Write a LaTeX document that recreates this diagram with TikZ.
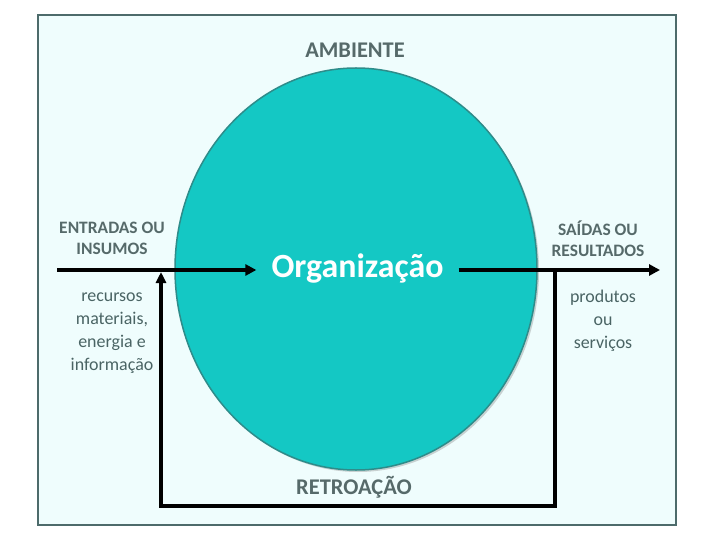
\documentclass[tikz,border=0pt]{standalone}
\usepackage{fontspec}
\setmainfont{Carlito}
\usetikzlibrary{arrows.meta,shapes.geometric,shadows}

\definecolor{moldura}{HTML}{4D6B6B}
\definecolor{fundo}{HTML}{EFFDFD}
\definecolor{turquesa}{HTML}{14C8C4}
\definecolor{borda}{HTML}{2E8C8A}
\definecolor{rotulo}{HTML}{566A6A}
\definecolor{nota}{HTML}{4A6464}

\tikzset{
  titulo/.style={font=\fontsize{17.5}{21}\selectfont\bfseries, text=rotulo, align=center},
  destaque/.style={titulo, font=\fontsize{22.5}{26}\selectfont\bfseries},
  texto/.style={font=\fontsize{18}{23}\selectfont, text=nota, align=center},
  seta/.style={line width=4bp, -{Triangle[length=11bp, width=11bp]}},
  retorno/.style={line width=3.2bp, -{Triangle[length=11bp, width=10bp]}}
}

\begin{document}
\begin{tikzpicture}[x=1bp, y=-1bp]
\useasboundingbox (0,0) rectangle (720,540);
% moldura do ambiente
\draw[moldura, line width=2.5bp, fill=fundo] (38,15) rectangle (676,525);

% organizacao
\node[ellipse, fill=turquesa, draw=borda, line width=1.5bp, minimum width=362bp, minimum height=402bp,
      drop shadow={shadow xshift=2bp, shadow yshift=-2bp, opacity=0.35}] (amb) at (356,269) {};
\node[font=\fontsize{34}{38}\selectfont\bfseries, text=white, inner xsep=15bp] (org) at (357.5,268) {Organização};

\node[destaque] (ambiente) at (355,50) {AMBIENTE};
\node[titulo] (entradas) at (112,238.5) {ENTRADAS OU\\INSUMOS};
\node[titulo] (saidas) at (598,238.5) {SAÍDAS OU\\RESULTADOS};
\node[destaque] (retroacao) at (354,487) {RETROAÇÃO};

\node[texto] (recursos) at (112,333) {recursos\\materiais,\\energia e\\informação};
\node[texto] (produtos) at (603,321) {produtos\\ou\\serviços};

% entradas e saidas
\coordinate (inicio) at (57,270);
\coordinate (fim) at (660,270);
\draw[seta] (inicio) -- (inicio -| org.west);
\draw[seta] (org.east |- fim) -- (fim);

% retroacao
\coordinate (r1) at (555,270);
\coordinate (r2) at (555,506);
\coordinate (r3) at (161,506);
\coordinate (r4) at (161,272);
\draw[retorno] (r1) -- (r2) -- (r3) -- (r4);
\end{tikzpicture}
\end{document}
